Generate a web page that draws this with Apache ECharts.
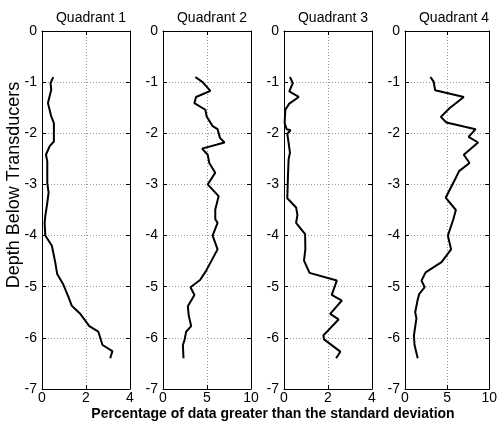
<!DOCTYPE html>
<html><head><meta charset="utf-8">
<script src="https://cdn.jsdelivr.net/npm/echarts@6/dist/echarts.min.js"></script>
<style>html,body{margin:0;padding:0;background:#fff}#c{width:500px;height:423px}</style>
</head><body><div id="c"></div>
<script>
const titles = ['Quadrant 1','Quadrant 2','Quadrant 3','Quadrant 4'];
const xMax = [4, 10, 4, 10];
const xInterval = [2, 5, 2, 5];
const yTicks = [0, -1, -2, -3, -4, -5, -6, -7];

const q1Pct   = [0.51,0.39,0.42,0.27,0.42,0.54,0.54,0.35,0.18,0.24,0.24,0.30,0.24,0.15,0.12,0.15,0.45,0.60,0.69,0.95,1.20,1.35,1.47,1.74,2.15,2.56,2.75,3.20,3.10];
const q1Depth = [-0.90,-1.02,-1.15,-1.41,-1.67,-1.80,-2.16,-2.25,-2.42,-2.55,-2.97,-3.16,-3.36,-3.62,-3.75,-4.00,-4.20,-4.52,-4.75,-4.94,-5.20,-5.37,-5.42,-5.53,-5.77,-5.88,-6.14,-6.26,-6.40];

const q2Pct   = [3.68,4.50,5.38,3.76,3.57,4.81,4.96,5.64,6.20,6.47,6.99,4.44,5.08,5.26,5.94,5.08,6.32,5.94,5.94,6.20,5.64,6.20,4.89,4.21,3.12,3.57,2.82,2.93,3.20,2.63,2.44,2.26,2.33];
const q2Depth = [-0.90,-1.00,-1.17,-1.29,-1.41,-1.54,-1.67,-1.86,-1.92,-2.09,-2.18,-2.30,-2.42,-2.58,-2.77,-3.00,-3.23,-3.49,-3.68,-3.75,-4.00,-4.27,-4.69,-4.87,-5.01,-5.16,-5.38,-5.57,-5.77,-5.88,-6.05,-6.14,-6.40];

const q3Pct   = [0.27,0.40,0.24,0.67,0.24,0.06,0.03,0.12,0.30,0.15,0.20,0.27,0.21,0.18,0.15,0.55,0.61,0.55,0.96,0.97,0.91,1.16,2.40,2.17,2.63,2.10,2.48,2.02,1.79,1.82,2.56,2.37];
const q3Depth = [-0.90,-1.02,-1.18,-1.29,-1.42,-1.54,-1.80,-1.92,-1.94,-2.01,-2.16,-2.38,-2.51,-2.84,-3.27,-3.45,-3.60,-3.75,-3.97,-4.27,-4.49,-4.73,-4.88,-5.16,-5.27,-5.53,-5.64,-5.85,-5.95,-6.03,-6.27,-6.40];

const q4Pct   = [3.02,3.40,3.58,6.98,5.28,4.26,4.91,8.38,7.55,8.68,6.98,7.66,6.42,6.04,4.83,6.04,5.74,5.09,5.47,4.34,2.45,1.96,2.34,1.70,1.51,1.21,1.36,1.06,1.13,1.51];
const q4Depth = [-0.90,-0.99,-1.16,-1.29,-1.51,-1.68,-1.79,-1.92,-2.07,-2.18,-2.42,-2.58,-2.74,-2.87,-3.26,-3.50,-3.68,-4.00,-4.27,-4.52,-4.72,-4.88,-5.01,-5.14,-5.25,-5.50,-5.62,-5.95,-6.14,-6.40];

const pcts = [q1Pct, q2Pct, q3Pct, q4Pct];
const depths = [q1Depth, q2Depth, q3Depth, q4Depth];

const lefts = [42, 163, 284, 405];
const W = 88, TOP = 31, H = 358;
const font = 'Liberation Sans, Arial, sans-serif';

const grid = [], xAxis = [], yAxis = [], series = [], title = [];
for (let i = 0; i < 4; i++) {
  grid.push({left: lefts[i], top: TOP, width: W, height: H, containLabel: false});
  const gridLine = {show: true, lineStyle: {color: '#9a9a9a', type: [1, 2], width: 1}};
  xAxis.push({type: 'value', gridIndex: i, min: 0, max: xMax[i], interval: xInterval[i], position: 'bottom',
    axisLine: {show: true, onZero: false, lineStyle: {color: '#000', width: 1}},
    axisTick: {show: true, inside: true, length: 4, lineStyle: {color: '#000'}},
    axisLabel: {color: '#000', fontSize: 14, fontFamily: font, margin: 2},
    splitLine: gridLine});
  xAxis.push({type: 'value', gridIndex: i, min: 0, max: xMax[i], interval: xInterval[i], position: 'top',
    axisLine: {show: true, onZero: false, lineStyle: {color: '#000', width: 1}},
    axisTick: {show: true, inside: true, length: 4, lineStyle: {color: '#000'}},
    axisLabel: {show: false}, splitLine: {show: false}});
  yAxis.push({type: 'value', gridIndex: i, min: -7, max: 0, interval: 1, position: 'left',
    axisLine: {show: true, onZero: false, lineStyle: {color: '#000', width: 1}},
    axisTick: {show: true, inside: true, length: 4, lineStyle: {color: '#000'}},
    axisLabel: {color: '#000', fontSize: 14, fontFamily: font, margin: 5},
    splitLine: gridLine});
  yAxis.push({type: 'value', gridIndex: i, min: -7, max: 0, interval: 1, position: 'right',
    axisLine: {show: true, onZero: false, lineStyle: {color: '#000', width: 1}},
    axisTick: {show: true, inside: true, length: 4, lineStyle: {color: '#000'}},
    axisLabel: {show: false}, splitLine: {show: false}});
  series.push({type: 'line', xAxisIndex: 2 * i, yAxisIndex: 2 * i, showSymbol: false, animation: false,
    lineStyle: {color: '#000', width: 2}, z: 5,
    data: pcts[i].map((v, k) => [v, depths[i][k]])});
  title.push({text: titles[i], left: lefts[i] + W / 2, top: 6, textAlign: 'center',
    textStyle: {fontSize: 14, fontWeight: 'normal', color: '#000', fontFamily: font}});
}
title.push({text: 'Percentage of data greater than the standard deviation', left: 268, top: 402, textAlign: 'center',
  textStyle: {fontSize: 14, fontWeight: 'bold', color: '#000', fontFamily: font}});

const chart = echarts.init(document.getElementById('c'), null, {renderer: 'canvas'});
chart.setOption({
  animation: false,
  backgroundColor: '#fff',
  title, grid, xAxis, yAxis, series,
  graphic: [{type: 'text', x: 14, y: 185, rotation: Math.PI / 2,
    style: {text: 'Depth Below Transducers', fontSize: 18, fontFamily: font, fill: '#000',
      align: 'center', verticalAlign: 'middle'}}]
});
</script></body></html>
